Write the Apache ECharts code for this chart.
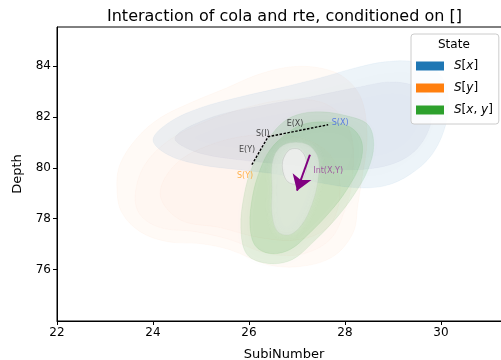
<!DOCTYPE html>
<html>
<head>
<meta charset="utf-8">
<script src="https://cdn.jsdelivr.net/npm/echarts@6/dist/echarts.min.js"></script>
<style>html,body{margin:0;padding:0;background:#fff}#chart{width:501px;height:360px}</style>
</head>
<body>
<div id="chart"></div>
<script>
var xTicks = [22, 24, 26, 28, 30];
var yTicks = [76, 78, 80, 82, 84];
var stateNames = ['S[x]', 'S[y]', 'S[x,y]'];
var stateColors = ['#1f77b4', '#ff7f0e', '#2ca02c'];

// density contour outlines, outer to inner (SubiNumber, Depth)
var syLevels = [
  [[23.25,79.14],[23.31,80.12],[23.67,81.18],[24.15,81.96],[24.83,82.59],[25.54,83.14],[26.17,83.65],[26.85,83.96],[27.48,83.92],[28.00,83.53],[28.35,82.67],[28.46,81.10],[28.35,79.53],[28.27,78.55],[28.17,77.45],[27.75,76.51],[27.06,76.12],[26.38,76.20],[25.60,76.78],[24.98,77.02],[24.29,77.10],[23.73,77.49],[23.35,78.24]],
  [[23.63,78.94],[23.83,80.12],[24.35,81.10],[25.08,81.80],[25.92,82.35],[26.75,82.67],[27.48,82.59],[27.90,82.08],[28.15,81.10],[28.15,79.53],[28.00,78.35],[27.69,77.18],[27.06,76.59],[26.33,76.67],[25.60,77.18],[24.88,77.49],[24.15,77.65],[23.73,78.16]],
  [[24.15,78.94],[24.46,80.12],[25.19,80.90],[26.13,81.29],[27.06,81.18],[27.69,80.51],[27.90,79.14],[27.69,77.76],[27.06,77.18],[26.23,77.25],[25.40,77.65],[24.56,77.96]]
];
var sxLevels = [
  [[24.00,81.10],[24.35,81.80],[24.98,82.35],[25.81,82.78],[26.65,83.14],[27.48,83.53],[28.21,83.92],[28.83,84.16],[29.46,84.16],[29.94,83.76],[30.15,82.86],[30.10,81.69],[29.81,80.51],[29.35,79.73],[28.83,79.29],[28.21,79.22],[27.48,79.41],[26.65,79.73],[25.81,79.92],[24.98,80.12],[24.31,80.51]],
  [[24.46,81.18],[25.19,81.96],[26.23,82.43],[27.27,82.78],[28.21,83.14],[29.04,83.37],[29.67,82.98],[29.81,81.96],[29.52,80.78],[28.94,80.12],[28.00,79.92],[26.85,80.12],[25.81,80.31],[24.88,80.63]]
];
var sxyLevels = [
  [[26.65,81.69],[27.00,82.08],[27.48,82.20],[28.04,82.04],[28.48,81.69],[28.60,80.90],[28.48,79.92],[28.19,78.94],[27.83,78.04],[27.35,77.10],[26.90,76.39],[26.40,76.24],[25.96,76.59],[25.83,77.65],[25.90,78.94],[26.06,80.00],[26.33,80.90]],
  [[26.75,81.29],[27.10,81.69],[27.58,81.80],[28.10,81.61],[28.35,81.02],[28.31,80.12],[28.04,79.14],[27.69,78.27],[27.23,77.37],[26.85,76.78],[26.44,76.63],[26.13,76.94],[26.02,77.76],[26.08,78.94],[26.23,79.92],[26.44,80.71]],
  [[26.60,80.71],[26.85,80.98],[27.23,80.90],[27.44,80.39],[27.44,79.53],[27.31,78.55],[27.10,77.76],[26.85,77.37],[26.60,77.49],[26.48,78.16],[26.48,79.14],[26.48,80.12]],
  [[26.71,80.31],[26.85,80.71],[27.06,80.71],[27.19,80.31],[27.17,79.73],[27.00,79.37],[26.81,79.45],[26.71,79.84]]
];

// annotations
var pathPoints = [[26.06,80.12],[26.40,81.22],[27.65,81.69]];
var labelPoints = [[25.92,79.69],[25.96,80.71],[26.29,81.33],[26.96,81.73],[27.90,81.76],[27.65,79.88]];
var labelTexts = ['S(Y)', 'E(Y)', 'S(I)', 'E(X)', 'S(X)', 'Int(X,Y)'];
var labelColors = ['#ffa020', '#222222', '#222222', '#222222', '#3f66e6', '#9a3c9a'];
var arrowFrom = [27.27, 80.51];
var arrowTo = [27.00, 79.10];

function levelSeries(name, color, levels, fills, strokes, blur) {
  return {
    type: 'custom',
    name: name,
    coordinateSystem: 'cartesian2d',
    itemStyle: { color: color },
    silent: true,
    data: levels.map(function (l, i) { return [l[0][0], l[0][1], i]; }),
    encode: { x: 0, y: 1 },
    renderItem: function (params, api) {
      var i = params.dataIndex;
      var pts = levels[i].map(function (p) { return api.coord(p); });
      return {
        type: 'polygon',
        shape: { points: pts, smooth: 0.35 },
        style: { fill: fills[i], stroke: strokes[i], lineWidth: 0.6, shadowBlur: blur[i], shadowColor: fills[i] }
      };
    }
  };
}

var chart = echarts.init(document.getElementById('chart'));
chart.setOption({
  animation: false,
  textStyle: { fontFamily: 'DejaVu Sans' },
  title: {
    text: 'Interaction of cola and rte, conditioned on []',
    left: 102, top: 4,
    textStyle: { fontSize: 16, fontWeight: 'normal', color: '#000', fontFamily: 'DejaVu Sans' }
  },
  grid: { left: 57, top: 27, width: 454, height: 294, outerBoundsMode: 'none', containLabel: false,
    show: true, borderColor: '#000', borderWidth: 1, backgroundColor: 'transparent' },
  xAxis: {
    type: 'value', min: 22, max: 31.46,
    name: 'SubiNumber', nameLocation: 'middle', nameGap: 27,
    nameTextStyle: { fontSize: 13, color: '#000' },
    axisLine: { show: true, lineStyle: { color: '#000' } },
    axisTick: { show: true, length: 4, lineStyle: { color: '#000' }, customValues: xTicks },
    axisLabel: { fontSize: 12, color: '#000', margin: 6, customValues: xTicks },
    splitLine: { show: false }
  },
  yAxis: {
    type: 'value', min: 73.98, max: 85.53,
    name: 'Depth', nameLocation: 'middle', nameGap: 33,
    nameTextStyle: { fontSize: 13, color: '#000' },
    axisLine: { show: true, lineStyle: { color: '#000' } },
    axisTick: { show: true, length: 4, lineStyle: { color: '#000' }, customValues: yTicks },
    axisLabel: { fontSize: 12, color: '#000', margin: 6, customValues: yTicks },
    splitLine: { show: false }
  },
  legend: {
    orient: 'vertical', left: 411, top: 34,
    data: stateNames,
    itemWidth: 28, itemHeight: 9, itemGap: 10,
    icon: 'rect',
    padding: [26, 6, 8, 5],
    backgroundColor: 'rgba(255,255,255,0.85)', borderColor: '#cccccc', borderWidth: 1, borderRadius: 3,
    formatter: function (name) {
      if (name === 'S[x]') return '{i|S}[{i|x}]';
      if (name === 'S[y]') return '{i|S}[{i|y}]';
      return '{i|S}[{i|x}, {i|y}]';
    },
    textStyle: {
      fontSize: 12, color: '#000', padding: [0, 0, 0, 5],
      rich: { i: { fontStyle: 'italic', fontSize: 12, color: '#000' } }
    }
  },
  graphic: [{
    type: 'text', left: 438, top: 39, z: 100,
    style: { text: 'State', fontSize: 12, fill: '#000', fontFamily: 'DejaVu Sans' }
  }],
  series: [
    levelSeries('S[y]', stateColors[1], syLevels,
      ['rgba(255,127,14,0.035)', 'rgba(255,127,14,0.02)', 'rgba(255,127,14,0.02)'],
      ['rgba(255,127,14,0.06)', 'rgba(255,127,14,0.05)', 'rgba(255,127,14,0.05)'],
      [10, 8, 8]),
    levelSeries('S[x]', stateColors[0], sxLevels,
      ['rgba(31,119,180,0.08)', 'rgba(60,60,130,0.06)'],
      ['rgba(31,119,180,0.08)', 'rgba(60,60,130,0.05)'],
      [10, 10]),
    levelSeries('S[x,y]', stateColors[2], sxyLevels,
      ['rgba(44,160,44,0.12)', 'rgba(44,160,44,0.13)', 'rgba(228,234,228,0.55)', 'rgba(240,240,240,0.7)'],
      ['rgba(44,160,44,0.12)', 'rgba(44,160,44,0.15)', 'rgba(170,180,170,0.25)', 'rgba(140,140,140,0.4)'],
      [10, 8, 6, 2]),
    {
      type: 'line', data: pathPoints, showSymbol: false, silent: true,
      lineStyle: { color: '#000', width: 1.4, type: [2.5, 1.5] }, z: 5
    },
    {
      type: 'lines', coordinateSystem: 'cartesian2d', silent: true, z: 6,
      symbol: ['none', 'arrow'], symbolSize: 15,
      lineStyle: { color: '#800080', width: 2, opacity: 1 },
      data: [{ coords: [arrowFrom, arrowTo] }]
    },
    {
      type: 'scatter', silent: true, symbolSize: 1, z: 7,
      itemStyle: { color: 'rgba(0,0,0,0)' },
      data: labelPoints.map(function (p, i) {
        return { value: p, label: { color: labelColors[i], formatter: labelTexts[i] } };
      }),
      label: { show: true, position: 'inside', fontSize: 8, fontFamily: 'DejaVu Sans' }
    }
  ]
});
</script>
</body>
</html>
